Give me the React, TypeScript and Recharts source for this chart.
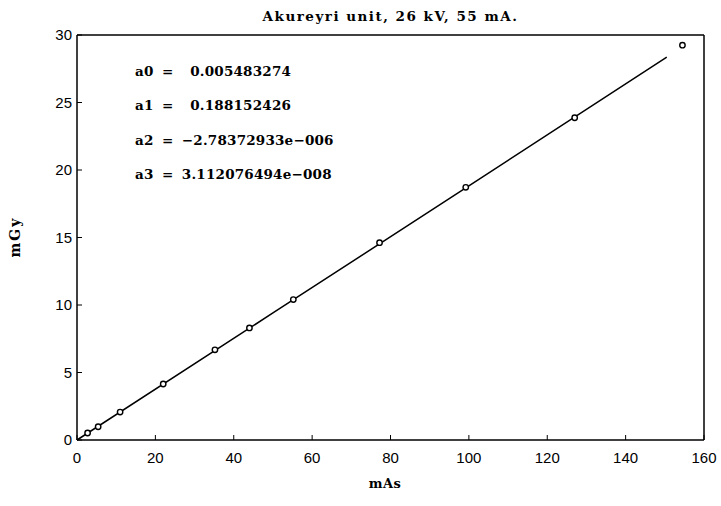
import React from 'react';
import { ComposedChart, Line, Scatter, XAxis, YAxis } from 'recharts';

// measured exposure (mAs) and dose (mGy)
const massValues = [2.7, 5.4, 11, 22, 35.2, 44, 55.2, 77.2, 99.2, 127, 154.5];
const doseValues = [0.52, 0.98, 2.07, 4.15, 6.68, 8.3, 10.4, 14.62, 18.72, 23.87, 29.25];

// fitted curve
const fitMass = [0, 50, 100, 150.5];
const fitDose = [0, 9.41, 18.82, 28.36];

const xTicks = [0, 20, 40, 60, 80, 100, 120, 140, 160];
const yTicks = [0, 5, 10, 15, 20, 25, 30];

const coefficients = [
  'a0 =  0.005483274',
  'a1 =  0.188152426',
  'a2 = \u22122.78372933e\u2212006',
  'a3 = 3.112076494e\u2212008',
];

const measured = massValues.map((x, i) => ({ x, y: doseValues[i] }));
const fitted = fitMass.map((x, i) => ({ x, y: fitDose[i] }));

const serif = '"DejaVu Serif", serif';
const sans = '"Liberation Sans", sans-serif';
const tickStyle = { fill: '#000', fontSize: 15, fontFamily: sans };
const frameLine = { stroke: '#000', strokeWidth: 1.5 };

const App: React.FC = () => (
  <div style={{ position: 'absolute', left: 0, top: 0, width: 721, height: 506, background: '#fff' }}>
    <ComposedChart width={721} height={506} margin={{ top: 34, right: 16, bottom: 36, left: 37 }}>
      <XAxis
        xAxisId="bottom"
        dataKey="x"
        type="number"
        domain={[0, 160]}
        ticks={xTicks}
        interval={0}
        height={30}
        tickSize={-5}
        tickMargin={17}
        tick={tickStyle}
        axisLine={frameLine}
        tickLine={{ stroke: '#000' }}
      />
      <XAxis
        xAxisId="top"
        orientation="top"
        dataKey="x"
        type="number"
        domain={[0, 160]}
        ticks={xTicks}
        interval={0}
        height={1}
        tickSize={-5}
        tick={() => <g />}
        axisLine={frameLine}
        tickLine={{ stroke: '#000' }}
      />
      <YAxis
        yAxisId="left"
        dataKey="y"
        type="number"
        domain={[0, 30]}
        ticks={yTicks}
        interval={0}
        width={40}
        tickSize={-5}
        tickMargin={10}
        tick={tickStyle}
        axisLine={frameLine}
        tickLine={{ stroke: '#000' }}
      />
      <YAxis
        yAxisId="right"
        orientation="right"
        dataKey="y"
        type="number"
        domain={[0, 30]}
        ticks={yTicks}
        interval={0}
        width={1}
        tickSize={-5}
        tick={() => <g />}
        axisLine={frameLine}
        tickLine={{ stroke: '#000' }}
      />
      <Line
        xAxisId="bottom"
        yAxisId="left"
        data={fitted}
        dataKey="y"
        type="linear"
        stroke="#000"
        strokeWidth={1.5}
        dot={false}
        activeDot={false}
        isAnimationActive={false}
      />
      <Scatter
        xAxisId="bottom"
        yAxisId="left"
        data={measured}
        dataKey="y"
        fill="#fff"
        stroke="#000"
        strokeWidth={1.4}
        shape={(props: any) => <circle cx={props.cx} cy={props.cy} r={2.7} fill="#fff" stroke="#000" strokeWidth={1.4} />}
        isAnimationActive={false}
      />
    </ComposedChart>
    <div
      style={{
        position: 'absolute',
        left: 0,
        width: 781,
        top: 8,
        textAlign: 'center',
        fontFamily: serif,
        fontWeight: 'bold',
        fontSize: 13.5,
        letterSpacing: 1.5,
      }}
    >
      Akureyri unit, 26 kV, 55 mA.
    </div>
    {coefficients.map((text, i) => (
      <div
        key={text}
        style={{
          position: 'absolute',
          left: 135,
          top: 63 + i * 34.3,
          fontFamily: serif,
          fontWeight: 'bold',
          fontSize: 13.5,
          letterSpacing: 0.2,
          wordSpacing: 3.5,
          whiteSpace: 'pre',
        }}
      >
        {text}
      </div>
    ))}
    <div
      style={{
        position: 'absolute',
        left: 360,
        width: 50,
        top: 476,
        textAlign: 'center',
        fontFamily: serif,
        fontWeight: 'bold',
        fontSize: 13,
        letterSpacing: 0.5,
      }}
    >
      mAs
    </div>
    <div
      style={{
        position: 'absolute',
        left: -10,
        top: 229,
        width: 50,
        textAlign: 'center',
        transform: 'rotate(-90deg)',
        fontFamily: serif,
        fontWeight: 'bold',
        fontSize: 14,
        letterSpacing: 2,
      }}
    >
      mGy
    </div>
  </div>
);

export default App;
